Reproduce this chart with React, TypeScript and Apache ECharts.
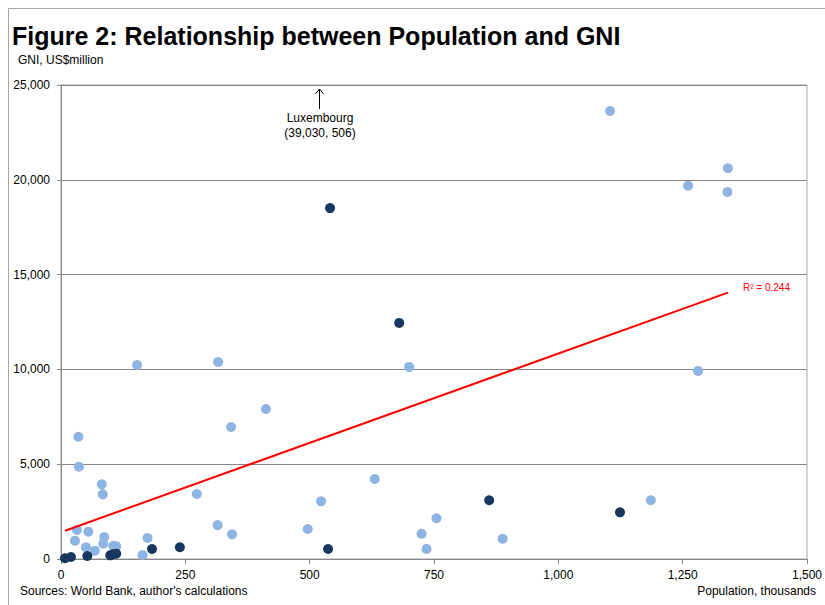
import React, { useEffect, useRef } from "react";
import * as echarts from "echarts";

const titleText = "Figure 2: Relationship between Population and GNI";
const yAxisTitle = "GNI, US$million";
const xAxisTitle = "Population, thousands";
const sourceText = "Sources: World Bank, author's calculations";
const annotationName = "Luxembourg";
const annotationValue = "(39,030, 506)";
const r2Label = "R\u00b2 = 0.244";

// Population (thousands) and GNI (US$ million)
const lightX = [1104, 1341, 1261, 1340, 1281, 700, 316, 153, 412, 342, 35, 36, 631, 273, 82, 84, 523, 1186, 755, 315, 496, 725, 344, 888, 735, 32, 55, 28, 87, 85, 50, 68, 105, 111, 174, 164];
const lightY = [23630, 20610, 19690, 19360, 9920, 10130, 10390, 10230, 7910, 6960, 6450, 4870, 4220, 3430, 3940, 3410, 3040, 3100, 2150, 1790, 1580, 1330, 1300, 1070, 530, 1530, 1440, 965, 1160, 810, 620, 440, 700, 670, 1110, 210];
const darkX = [8, 20, 53, 99, 104, 111, 183, 239, 537, 861, 1124, 541, 680];
const darkY = [40, 105, 160, 195, 250, 280, 527, 622, 527, 3100, 2460, 18510, 12450];
const trendX = [8, 1341];
const trendY = [1490, 14050];

const FONT = "'Liberation Sans', Arial, sans-serif";

export default function App() {
  const ref = useRef<HTMLDivElement>(null);
  useEffect(() => {
    if (!ref.current) return;
    const chart = echarts.init(ref.current, null, { renderer: "svg" });
    const fmt = (v: number) => v.toLocaleString("en-US");
    chart.setOption({
      animation: false,
      backgroundColor: "#ffffff",
      grid: {
        left: 61,
        top: 85,
        right: 18,
        bottom: 46,
        show: true,
        borderColor: "#a6a6a6",
        borderWidth: 1,
      },
      xAxis: {
        type: "value",
        min: 0,
        max: 1500,
        interval: 250,
        axisLine: { show: true, lineStyle: { color: "#868686", width: 1 } },
        axisTick: { show: true, length: 5, lineStyle: { color: "#868686" } },
        splitLine: { show: false },
        axisLabel: { color: "#000", fontSize: 12, fontFamily: FONT, margin: 10, formatter: fmt },
      },
      yAxis: {
        type: "value",
        min: 0,
        max: 25000,
        interval: 5000,
        axisLine: { show: true, lineStyle: { color: "#868686", width: 1 } },
        axisTick: { show: true, length: 4, lineStyle: { color: "#868686" } },
        splitLine: { show: true, lineStyle: { color: "#868686", width: 1 } },
        axisLabel: { color: "#000", fontSize: 12, fontFamily: FONT, margin: 11, formatter: fmt },
      },
      series: [
        {
          type: "scatter",
          symbol: "circle",
          symbolSize: 10,
          itemStyle: { color: "#8db4e2", opacity: 1 },
          data: lightX.map((x, i) => [x, lightY[i]]),
          z: 3,
        },
        {
          type: "scatter",
          symbol: "circle",
          symbolSize: 10,
          itemStyle: { color: "#17375e", opacity: 1 },
          data: darkX.map((x, i) => [x, darkY[i]]),
          z: 4,
        },
        {
          type: "line",
          symbol: "none",
          lineStyle: { color: "#ff0000", width: 2 },
          data: trendX.map((x, i) => [x, trendY[i]]),
          z: 5,
        },
      ],
      graphic: [
        {
          type: "rect",
          shape: { x: 8.5, y: 8.5, width: 830, height: 610 },
          style: { fill: "none", stroke: "#a6a6a6", lineWidth: 1 },
          silent: true,
        },
        {
          type: "text",
          x: 12,
          y: 36,
          style: { text: titleText, font: `bold 25px ${FONT}`, fill: "#000", textVerticalAlign: "middle" },
        },
        {
          type: "text",
          x: 18,
          y: 60,
          style: { text: yAxisTitle, font: `12px ${FONT}`, fill: "#000", textVerticalAlign: "middle" },
        },
        {
          type: "text",
          x: 20,
          y: 591,
          style: { text: sourceText, font: `12px ${FONT}`, fill: "#000", textVerticalAlign: "middle" },
        },
        {
          type: "text",
          x: 816,
          y: 591,
          style: { text: xAxisTitle, font: `12px ${FONT}`, fill: "#000", textAlign: "right", textVerticalAlign: "middle" },
        },
        {
          type: "line",
          shape: { x1: 319.5, y1: 89, x2: 319.5, y2: 109 },
          style: { stroke: "#000", lineWidth: 1 },
        },
        {
          type: "polyline",
          shape: { points: [[315.5, 94], [319.5, 89], [323.5, 94]] },
          style: { stroke: "#000", lineWidth: 1, fill: "none" },
        },
        {
          type: "text",
          x: 320,
          y: 118,
          style: { text: annotationName, font: `12px ${FONT}`, fill: "#000", textAlign: "center", textVerticalAlign: "middle" },
        },
        {
          type: "text",
          x: 320,
          y: 133,
          style: { text: annotationValue, font: `12px ${FONT}`, fill: "#000", textAlign: "center", textVerticalAlign: "middle" },
        },
        {
          type: "text",
          x: 743,
          y: 287,
          style: { text: r2Label, font: `10px ${FONT}`, fill: "#ff0000", textVerticalAlign: "middle" },
        },
      ],
    });
    return () => chart.dispose();
  }, []);
  return (
    <div
      ref={ref}
      style={{ position: "fixed", left: 0, top: 0, width: 825, height: 605, background: "#fff" }}
    />
  );
}
